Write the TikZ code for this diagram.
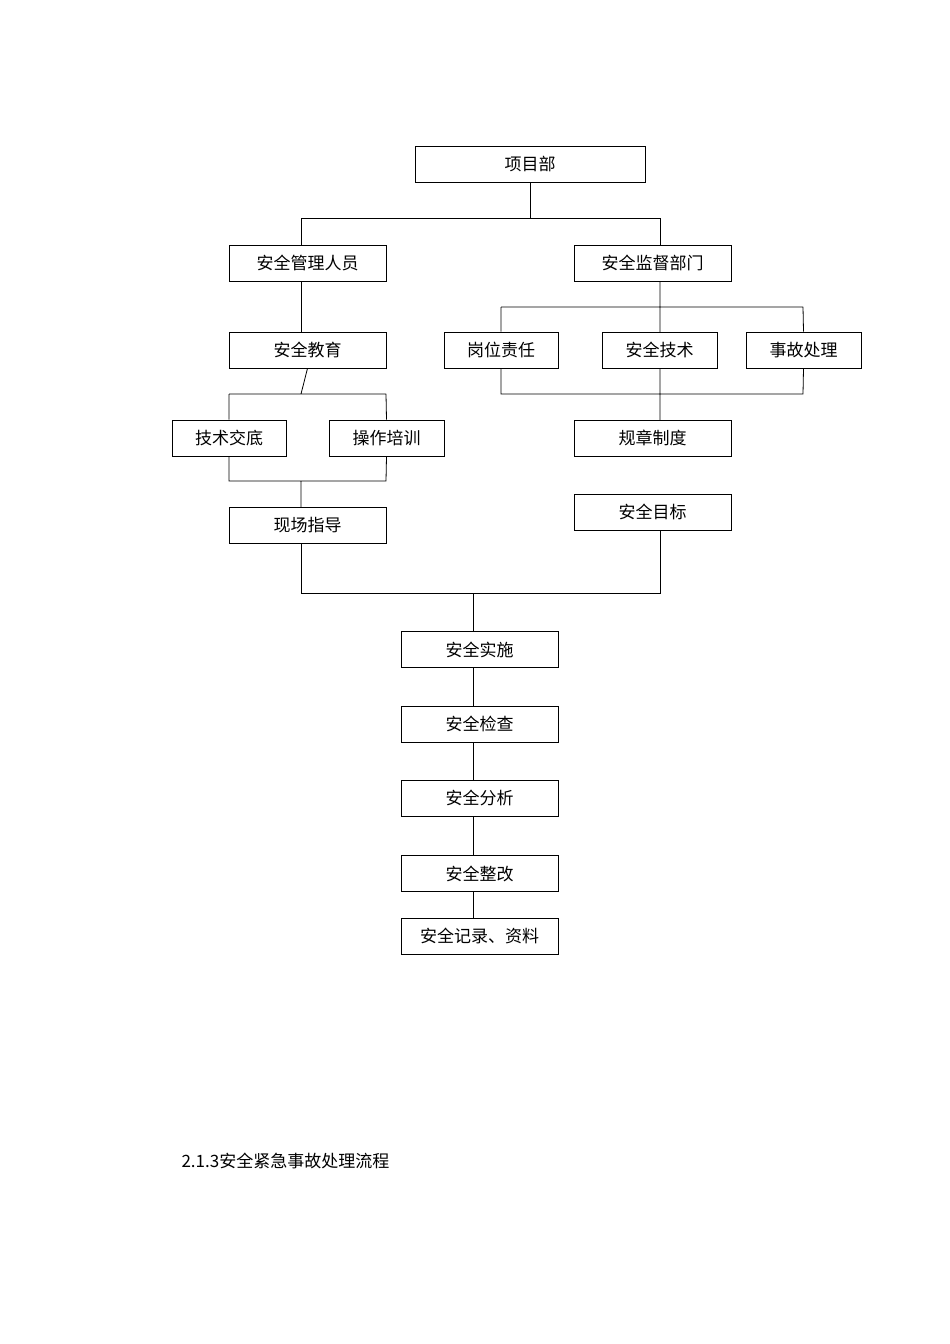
\documentclass[tikz,border=0pt]{standalone}
\usepackage{fontspec}
\newfontfamily\cjk{Noto Sans CJK SC}
\begin{document}
\begin{tikzpicture}[x=1pt,y=-1pt,
  bx/.style={draw,line width=0.8pt,minimum height=36pt,inner sep=0pt,font=\cjk\fontsize{17}{17}\selectfont},
  ln/.style={line width=0.8pt}]
\useasboundingbox (0,0) rectangle (950,1344);
\node[bx,minimum width=230pt] (xm) at (530,164) {项目部};
\node[bx,minimum width=157pt] (gl) at (307.5,263) {安全管理人员};
\node[bx,minimum width=157pt] (jd) at (652.5,263) {安全监督部门};
\node[bx,minimum width=157pt] (jy) at (307.5,350) {安全教育};
\node[bx,minimum width=114pt] (gw) at (501,350) {岗位责任};
\node[bx,minimum width=115pt] (js) at (659.5,350) {安全技术};
\node[bx,minimum width=115pt] (sg) at (803.5,350) {事故处理};
\node[bx,minimum width=114pt] (jj) at (229,438) {技术交底};
\node[bx,minimum width=115pt] (cz) at (386.5,438) {操作培训};
\node[bx,minimum width=157pt] (gz) at (652.5,438) {规章制度};
\node[bx,minimum width=157pt] (xc) at (307.5,525) {现场指导};
\node[bx,minimum width=157pt] (mb) at (652.5,512) {安全目标};
\node[bx,minimum width=157pt] (ss) at (479.5,649.5) {安全实施};
\node[bx,minimum width=157pt] (jc) at (479.5,724) {安全检查};
\node[bx,minimum width=157pt] (fx) at (479.5,798) {安全分析};
\node[bx,minimum width=157pt] (zg) at (479.5,873.5) {安全整改};
\node[bx,minimum width=157pt] (jl) at (479.5,936) {安全记录、资料};
\node[anchor=west,font=\cjk\fontsize{17}{17}\selectfont] (tt) at (178,1161) {2.1.3安全紧急事故处理流程};
% top
\draw[ln] (xm.south) -- (530,218) (301,218) -- (660,218);
\draw[ln] (301,218) -- (301,245) (660,218) -- (660,245);
\draw[ln] (301,281) -- (301,332);
\draw[ln] (660,281) -- (660,332) (501,307) -- (803,307) (501,307) -- (gw.north) (803,307) -- (sg.north);
\draw[ln] (gw.south) -- (501,394) -- (803,394) -- (sg.south) (660,368) -- (660,420);
\draw[ln] (jy.south) -- (301,394) (229,394) -- (386,394) (229,394) -- (jj.north) (386,394) -- (cz.north);
\draw[ln] (jj.south) -- (229,481) -- (386,481) -- (cz.south) (301,481) -- (301,507);
\draw[ln] (301,543) -- (301,593) -- (660,593) -- (660,530) (473,593) -- (473,631);
\draw[ln] (473,668) -- (473,706) (473,742) -- (473,780) (473,816) -- (473,855) (473,892) -- (473,918);
\end{tikzpicture}
\end{document}
